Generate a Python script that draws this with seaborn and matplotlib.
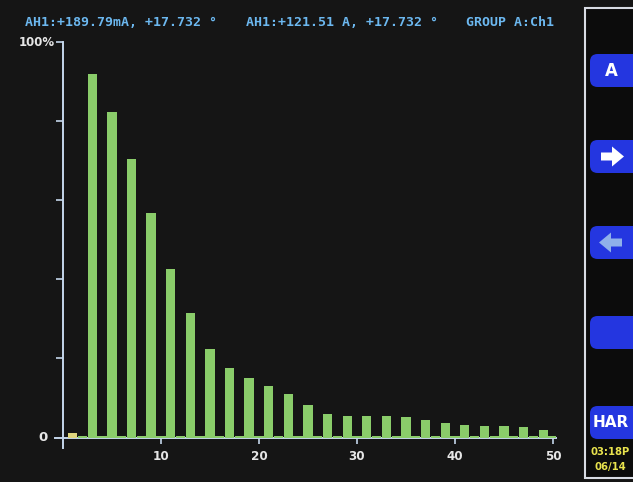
import matplotlib
matplotlib.use("Agg")
import matplotlib.pyplot as plt
import matplotlib.patches as mpatches
import pandas as pd
import seaborn as sns

# harmonic spectrum (% of scale)
odd_orders = [1, 3, 5, 7, 9, 11, 13, 15, 17, 19, 21, 23, 25,
              27, 29, 31, 33, 35, 37, 39, 41, 43, 45, 47, 49]
odd_levels = [1.1, 92.0, 82.3, 70.3, 56.8, 42.6, 31.4, 22.4, 17.5, 15.0, 13.1, 11.1, 8.3,
              6.0, 5.4, 5.4, 5.4, 5.2, 4.4, 3.7, 3.1, 2.8, 2.8, 2.6, 2.0]
even_orders = [2, 4, 6, 8, 10, 12, 14, 16, 18, 20, 22, 24, 26,
               28, 30, 32, 34, 36, 38, 40, 42, 44, 46, 48, 50]
even_levels = [0.4, 0.4, 0.4, 0.4, 0.4, 0.4, 0.4, 0.4, 0.4, 0.4, 0.4, 0.4, 0.4,
               0.4, 0.4, 0.4, 0.4, 0.4, 0.4, 0.4, 0.4, 0.4, 0.4, 0.4, 0.4]
x_ticks = [10, 20, 30, 40, 50]
header_parts = ["AH1:+189.79mA, +17.732 °", "AH1:+121.51 A, +17.732 °", "GROUP A:Ch1"]
buttons = ["A", "right", "left", "", "HAR"]
clock = ["03:18P", "06/14"]

BG = "#151515"
GREEN = "#84dc5a"
YELLOW = "#f0e46c"
AXIS = "#c4d6ea"
BLUE_TXT = "#6cb8f0"
BTN = "#2436e0"

df = pd.DataFrame({"order": odd_orders + even_orders,
                   "level": odd_levels + even_levels})
df["kind"] = ["fund" if o == 1 else "harm" for o in df["order"]]
df = df.sort_values("order")

W, H = 633, 482
fig = plt.figure(figsize=(W / 100, H / 100), dpi=100, facecolor=BG)
ax = fig.add_axes([55 / W, (H - 448.2) / H, 501 / W, 406.2 / H], facecolor=BG)

sns.barplot(data=df, x="order", y="level", hue="kind",
            palette={"fund": YELLOW, "harm": GREEN}, native_scale=True,
            dodge=False, width=0.95, errorbar=None, linewidth=0,
            legend=False, ax=ax)

ax.set_xlim(-0.8, 50.3)
ax.set_ylim(-2.7, 100)
ax.set_xlabel("")
ax.set_ylabel("")

for s in ["top", "right"]:
    ax.spines[s].set_visible(False)
ax.spines["left"].set_position(("data", 0))
ax.spines["bottom"].set_position(("data", 0))
for s in ["left", "bottom"]:
    ax.spines[s].set_color(AXIS)
    ax.spines[s].set_linewidth(1.4)
ax.spines["bottom"].set_zorder(0.5)

ax.set_xticks(x_ticks)
ax.set_xticklabels([str(t) for t in x_ticks])
ax.set_yticks([20, 40, 60, 80, 100])
ax.set_yticklabels(["", "", "", "", ""])
ax.tick_params(axis="x", colors=AXIS, length=4, width=1.2, pad=5,
               labelcolor="#e6e6e6", labelsize=9.5)
ax.tick_params(axis="y", colors=AXIS, length=5, width=1.2)
for lbl in ax.get_xticklabels():
    lbl.set_fontweight("bold")
    lbl.set_fontstretch("condensed")

ax.text(-1.6, 0, "0", ha="right", va="center", clip_on=False,
        color="#e6e6e6", fontsize=9.5, fontweight="bold")
ax.text(-0.85, 100, "100%", ha="right", va="center", clip_on=False,
        color="#e6e6e6", fontsize=8.5, fontweight="bold")


def fp(x, y):
    return x / W, 1 - y / H


# header readout
for txt, x0 in zip(header_parts, [25, 246, 466]):
    fig.text(*fp(x0, 22), txt, color=BLUE_TXT, fontsize=9.5, fontweight="bold",
             family="DejaVu Sans Mono", va="center", ha="left")

# right-hand soft-key panel
fx, fy = fp(585, 478)
fig.patches.append(mpatches.Rectangle((fx, fy), 60 / W, 470 / H, transform=fig.transFigure,
                                      facecolor="#0c0c0c", edgecolor="#d8dce4", linewidth=1.5))
btn_tops = [54, 140, 226, 316, 406]
for name, top in zip(buttons, btn_tops):
    bx, by = fp(590, top + 33)
    fig.patches.append(mpatches.FancyBboxPatch((bx, by), 60 / W, 33 / H,
                                               boxstyle="round,pad=0,rounding_size=0.012",
                                               transform=fig.transFigure, facecolor=BTN,
                                               edgecolor="none", mutation_aspect=W / H))
    cy = top + 16.5
    if name in ("A", "HAR"):
        fig.text(*fp(611, cy), name, color="white", fontsize=12 if name == "A" else 11,
                 fontweight="bold", ha="center", va="center")
    elif name in ("right", "left"):
        if name == "right":
            pts = [(601, cy - 4), (612, cy - 4), (612, cy - 10), (624, cy), (612, cy + 10),
                   (612, cy + 4), (601, cy + 4)]
            col = "white"
        else:
            pts = [(622, cy - 4), (611, cy - 4), (611, cy - 10), (599, cy), (611, cy + 10),
                   (611, cy + 4), (622, cy + 4)]
            col = "#8fb0ea"
        fig.patches.append(mpatches.Polygon([fp(*p) for p in pts], closed=True,
                                            transform=fig.transFigure, facecolor=col,
                                            edgecolor="none"))

for txt, y in zip(clock, [452, 467]):
    fig.text(*fp(610, y), txt, color="#e9e34e", fontsize=8, fontweight="bold",
             ha="center", va="center", fontstretch="condensed")

fig.savefig("out.png", dpi=100, facecolor=BG)
